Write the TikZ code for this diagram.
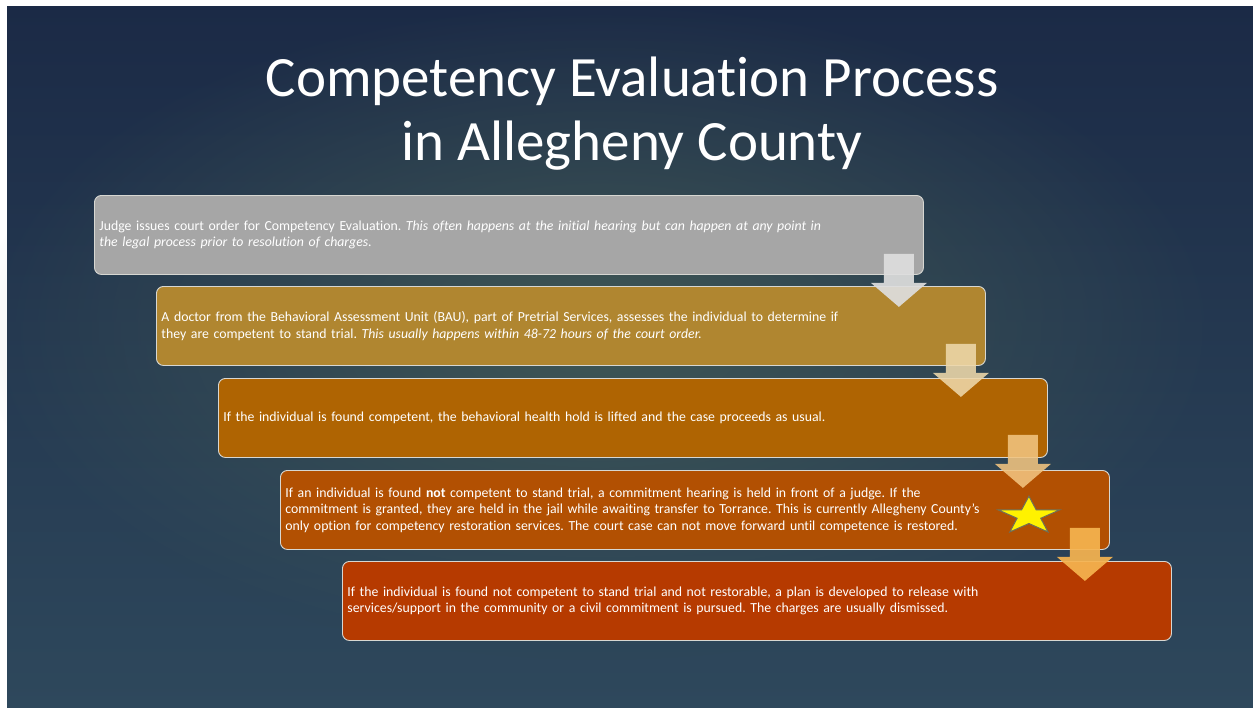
\documentclass[tikz,border=0pt]{standalone}
\usepackage{fontspec}
\setmainfont[Ligatures={NoCommon}]{Carlito}
\frenchspacing
\usetikzlibrary{shapes.geometric,fadings,calc}
\definecolor{bgtop}{RGB}{27,42,70}
\definecolor{bgbot}{RGB}{46,72,92}
\definecolor{glowc}{RGB}{68,92,86}
\definecolor{boxline}{RGB}{215,215,210}
\definecolor{c1}{RGB}{166,166,166}
\definecolor{c2}{RGB}{176,134,48}
\definecolor{c3}{RGB}{175,100,2}
\definecolor{c4}{RGB}{178,80,2}
\definecolor{c5}{RGB}{182,58,0}
\definecolor{a1}{RGB}{222,222,222}
\definecolor{a2}{RGB}{238,216,170}
\definecolor{a3}{RGB}{242,196,128}
\definecolor{a4}{RGB}{246,180,80}
\tikzfading[name=glow, inner color=transparent!0, outer color=transparent!100]
\begin{document}
\begin{tikzpicture}[x=1pt,y=-1pt,
  stepbox/.style={draw=boxline, line width=0.9pt, rounded corners=7pt, text width=819pt,
    minimum height=79pt, inner xsep=5pt, inner ysep=0pt, align=left, anchor=north west,
    text=white, font=\fontsize{13.8}{16.5}\selectfont},
  titletext/.style={text=white, align=center, font=\fontsize{57}{64}\selectfont},
  downarrow/.pic={\fill (-15,-29) -- (15,-29) -- (15,0) -- (28,0) -- (0,24) -- (-28,0) -- (-15,0) -- cycle;}
]
\useasboundingbox (0,0) rectangle (1253,707);
\fill[white] (0,0) rectangle (1253,707);
\shade[top color=bgtop, bottom color=bgbot] (7,6) rectangle (1253,707);
\fill[glowc, path fading=glow, fill opacity=0.85] (600,330) ellipse [x radius=620, y radius=330];

\node[titletext] (title) at (632,114) {Competency Evaluation Process\\in Allegheny County};

\node[stepbox, fill=c1] (b1) at (94,195) {Judge issues court order for Competency Evaluation. \textit{This often happens at the initial hearing but can happen at any point in}\\\textit{the legal process prior to resolution of charges.}};
\node[stepbox, fill=c2] (b2) at (156,286) {A doctor from the Behavioral Assessment Unit (BAU), part of Pretrial Services, assesses the individual to determine if\\they are competent to stand trial. \textit{This usually happens within 48-72 hours of the court order.}};
\node[stepbox, fill=c3] (b3) at (218,378) {If the individual is found competent, the behavioral health hold is lifted and the case proceeds as usual.};
\node[stepbox, fill=c4] (b4) at (280,470) {If an individual is found \textbf{not} competent to stand trial, a commitment hearing is held in front of a judge. If the\\commitment is granted, they are held in the jail while awaiting transfer to Torrance. This is currently Allegheny County’s\\only option for competency restoration services. The court case can not move forward until competence is restored.};
\node[stepbox, fill=c5] (b5) at (342,561) {If the individual is found not competent to stand trial and not restorable, a plan is developed to release with\\services/support in the community or a civil commitment is pursued. The charges are usually dismissed.};

\pic[fill=a1, fill opacity=0.92] at ($(b1.south east)+(-25,8)$) {downarrow};
\pic[fill=a2, fill opacity=0.88] at ($(b2.south east)+(-25,7)$) {downarrow};
\pic[fill=a3, fill opacity=0.88] at ($(b3.south east)+(-25,6)$) {downarrow};
\pic[fill=a4, fill opacity=0.92] at ($(b4.south east)+(-25,7)$) {downarrow};

\node[star, star points=5, star point ratio=2.618, minimum size=65pt, inner sep=0pt,
  fill=yellow, draw={rgb,255:red,110;green,110;blue,90}, line width=1pt, yscale=0.61, transform shape]
  (star) at ($(b4.east)+(-81,6)$) {};
\end{tikzpicture}
\end{document}
